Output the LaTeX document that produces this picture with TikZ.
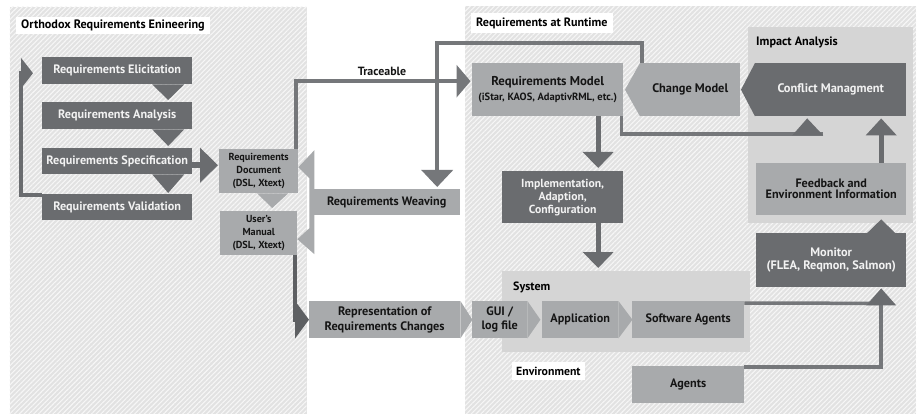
\documentclass[tikz,border=0pt]{standalone}
\usepackage{fontspec}
\setmainfont{PT Sans}
\usetikzlibrary{arrows.meta,patterns.meta}

\definecolor{panelbg}{HTML}{E2E2E2}
\definecolor{hatch}{HTML}{F6F6F6}
\definecolor{groupbg}{HTML}{D5D5D5}
\definecolor{boxdark}{HTML}{6A6C6F}
\definecolor{boxdeep}{HTML}{5E6063}
\definecolor{boxlight}{HTML}{A8AAAC}
\definecolor{wire}{HTML}{75777A}
\definecolor{txtdark}{HTML}{151515}
\definecolor{txtlight}{HTML}{F2F2F2}

\newcommand{\fz}[2]{\fontsize{#1}{#2}\selectfont\bfseries}

\tikzset{
  panel/.style={anchor=north west, inner sep=0pt, preaction={fill=panelbg},
    pattern={Lines[angle=45,distance=3.4pt,line width=1.1pt]}, pattern color=hatch},
  group/.style={anchor=north west, inner sep=0pt, fill=groupbg},
  caption/.style={anchor=north west, fill=white, inner xsep=5pt, inner ysep=0pt,
    minimum height=17pt, text=black, font=\fz{12.2}{13}},
  sz/.style 2 args={minimum width=#1pt, minimum height=#2pt},
  dk/.style={anchor=north west, inner sep=0pt, align=center, fill=boxdark, text=txtlight},
  lt/.style={anchor=north west, inner sep=0pt, align=center, fill=boxlight, text=txtdark},
  wireline/.style={draw=wire, line width=4pt},
}

\begin{document}
\begin{tikzpicture}[x=1pt,y=-1pt]
\useasboundingbox (0,0) rectangle (918,414);
\fill[white] (0,0) rectangle (918,414);

% ---- background areas
\node[panel, sz={297}{408}] (ortho) at (9,6) {};
\node[panel, sz={451}{408}] (runtime) at (465,6) {};
\node[group, sz={165}{196}] (impact) at (748,27) {};
\node[group, sz={248}{81}] (system) at (502,271) {};

\node[caption] (orthotitle) at (16,17) {Orthodox Requirements Enineering};
\node[caption, minimum height=20pt, font=\fz{12.1}{13}] (runtitle) at (471,13) {Requirements at Runtime};
\node[anchor=west, inner sep=0pt, font=\fz{12.2}{13}] (impacttitle) at (756,42) {Impact Analysis};
\node[anchor=west, inner sep=0pt, font=\fz{12}{13}] (systemtitle) at (513,287) {System};
\node[caption, inner xsep=4pt, minimum height=18pt, font=\fz{11.8}{13}] (envtitle) at (512,362) {Environment};

% ---- classic requirements engineering steps
\node[dk, sz={150}{27}, font=\fz{12.2}{13}] (elic) at (42,57) {Requirements Elicitation};
\node[dk, sz={150}{27}, font=\fz{12.2}{13}] (anal) at (42,102) {Requirements Analysis};
\node[dk, sz={150}{26}, font=\fz{12.2}{13}] (spec) at (42,148) {Requirements Specification};
\node[dk, sz={150}{26}, font=\fz{12.2}{13}] (valid) at (42,194) {Requirements Validation};

\node[lt, sz={79}{44}, font=\fz{10.2}{13}] (doc) at (219,149) {Requirements\\Document\\(DSL, Xtext)};
\node[lt, sz={77}{44}, font=\fz{10.2}{13}] (manual) at (220,211) {User’s\\Manual\\(DSL, Xtext)};

\node[lt, sz={147}{26}, font=\fz{12.2}{13}] (weaving) at (313,189) {Requirements Weaving};
\node[lt, sz={151}{37}, font=\fz{12.3}{15}] (repr) at (309,301) {Representation of\\Requirements Changes};

% ---- runtime side
\node[lt, sz={151}{53}] (rmodel) at (472,63)
  {{\fz{12.8}{14}Requirements Model}\\[3pt]{\fz{10.5}{11}(iStar, KAOS, AdaptivRML, etc.)}};
\node[lt, sz={100}{53}, font=\fz{12.4}{14}] (change) at (640,63) {Change Model};
\node[dk, sz={151}{53}, font=\fz{12.4}{14}] (conflict) at (755,63) {Conflict Managment};
\node[lt, sz={150}{52}, font=\fz{12.2}{10.8}] (feedback) at (756,163) {Feedback and\\Environment Information};
\node[dk, sz={150}{54}, font=\fz{12.3}{12.5}] (monitor) at (756,233) {Monitor\\(FLEA, Reqmon, Salmon)};
\node[dk, sz={121}{52}, font=\fz{11.7}{13}] (impl) at (502,171) {Implementation,\\Adaption,\\Configuration};

\node[lt, sz={55}{37}, font=\fz{12.2}{14}] (gui) at (472,301) {GUI /\\log file};
\node[lt, sz={76}{37}, font=\fz{12.2}{14}] (app) at (542,301) {Application};
\node[lt, sz={112}{37}, font=\fz{12.2}{14}] (swa) at (632,301) {Software Agents};
\node[lt, sz={112}{37}, font=\fz{12.2}{14}] (agents) at (632,366) {Agents};

% ---- arrow-shaped box ends
\fill[boxlight] (repr.north east) -- ([xshift=12pt]repr.east) -- (repr.south east) -- cycle;
\fill[boxlight] (gui.north east) -- ([xshift=13pt]gui.east) -- (gui.south east) -- cycle;
\fill[boxlight] (app.north east) -- ([xshift=14pt]app.east) -- (app.south east) -- cycle;
\fill[boxlight] (change.north west) -- ([xshift=-15pt]change.west) -- (change.south west) -- cycle;
\fill[boxdark] (conflict.north west) -- ([xshift=-14pt]conflict.west) -- (conflict.south west) -- cycle;

% ---- step-to-step pointers
\fill[boxdark] ([xshift=35pt]elic.south) -- ([xshift=67pt]elic.south) -- ([xshift=51pt,yshift=2pt]anal.north) -- cycle;
\fill[boxdark] ([xshift=35pt]anal.south) -- ([xshift=67pt]anal.south) -- ([xshift=51pt,yshift=2pt]spec.north) -- cycle;
\fill[boxdark] ([xshift=35pt]spec.south) -- ([xshift=67pt]spec.south) -- ([xshift=51pt,yshift=1pt]valid.north) -- cycle;
\fill[boxlight] ([xshift=-1.5pt]doc.south) -- ([xshift=29.5pt]doc.south) -- ([xshift=13.5pt,yshift=3pt]manual.north) -- cycle;

% validation loops back to elicitation
\draw[draw=boxdark, line width=4pt, -{Triangle[width=30pt,length=12pt]}, shorten >=9pt]
  ([yshift=-1.5pt]valid.north west) -| ([xshift=-21pt,yshift=-2.5pt]elic.west) -- ([yshift=-2.5pt]elic.west);

% specification produces the document
\draw[draw=boxdark, line width=6pt, -{Triangle[width=34pt,length=18pt]}, shorten >=1pt]
  ([yshift=-4pt]spec.east) -- ([yshift=-4pt]spec.east -| doc.west);

% weaving feeds document and manual
\fill[boxlight] ([xshift=16pt,yshift=21pt]doc.east) -- ([yshift=4pt]doc.east)
  -- ([xshift=11pt,yshift=-7pt]doc.east) -- ([xshift=12pt,yshift=5pt]manual.east)
  -- ([yshift=-6pt]manual.east) -- ([xshift=17pt,yshift=-21pt]manual.east) -- cycle;

% manual to representation of changes
\draw[draw=boxdeep, line width=4pt, -{Triangle[width=37pt,length=14pt]}]
  ([xshift=-2pt]manual.south east) |- (repr.west);

% traceable link
\draw[wireline, -{Triangle[width=32pt,length=14pt]}, shorten >=1.5pt]
  ([xshift=-2.5pt]doc.north east) |- ([yshift=8.5pt]rmodel.west);
\node[inner sep=0pt, font=\fz{11.9}{13}, text=txtdark] (traceable) at (382,71) {Traceable};

% change model back to weaving
\draw[wireline, -{Triangle[width=31pt,length=17pt]}, shorten >=2pt]
  ([xshift=2pt]change.north west) -- ++(0,-20) -| ([xshift=50.5pt]weaving.north);

% model to conflict management
\draw[draw=wire, line width=3.5pt]
  ([xshift=-2pt]rmodel.south east) |- ([xshift=-8pt,yshift=-17.5pt]conflict.south);
\fill[boxdark] ([xshift=-38.5pt,yshift=-19pt]conflict.south) -- ([xshift=-7.5pt,yshift=-19pt]conflict.south)
  -- ([xshift=-23.5pt,yshift=-2pt]conflict.south) -- cycle;

% feedback to conflict management
\draw[draw=boxdark, line width=5pt, -{Triangle[width=30pt,length=17pt]}]
  ([xshift=50pt]feedback.north) -- ([xshift=50.5pt,yshift=-2pt]conflict.south);

% model to implementation to system
\draw[draw=boxdark, line width=5pt, -{Triangle[width=30pt,length=16pt]}]
  ([xshift=50.5pt]rmodel.south) -- ([xshift=35.5pt,yshift=3pt]impl.north);
\draw[draw=boxdark, line width=5pt, -{Triangle[width=30pt,length=16pt]}]
  ([xshift=35.5pt]impl.south) -- ([xshift=-28pt,yshift=3pt]system.north);

% monitor to impact analysis
\fill[boxdark] ([xshift=36pt]monitor.north) -- ([xshift=64pt]monitor.north)
  -- ([xshift=50.5pt,yshift=4pt]impact.south) -- cycle;

% agents to monitor
\draw[draw=wire, line width=3.5pt]
  ([yshift=-2pt]swa.north east) -- ([xshift=50pt,yshift=-16pt]monitor.south);
\draw[wireline]
  ([yshift=-1pt]agents.north east) -| ([xshift=50pt,yshift=-18pt]monitor.south);
\fill[boxdark] ([xshift=35pt,yshift=-18pt]monitor.south) -- ([xshift=65pt,yshift=-18pt]monitor.south)
  -- ([xshift=50pt,yshift=-1pt]monitor.south) -- cycle;
\end{tikzpicture}
\end{document}
